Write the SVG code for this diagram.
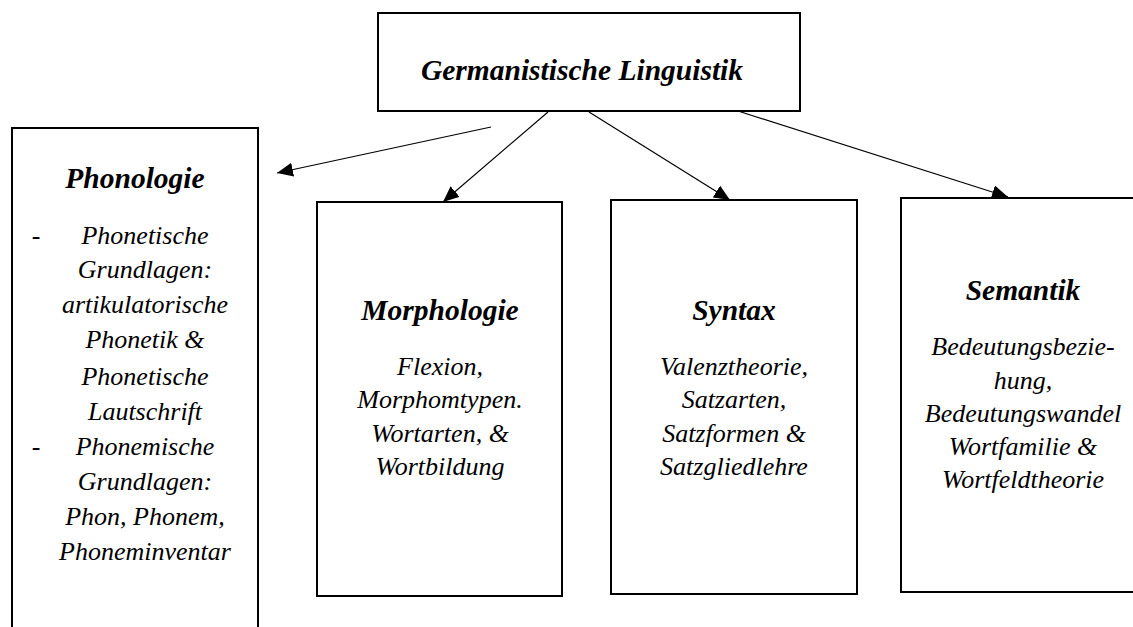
<svg xmlns="http://www.w3.org/2000/svg" width="1133" height="627" viewBox="0 0 1133 627">
  <style>
    .box { fill: #ffffff; stroke: #000000; stroke-width: 2; }
    .conn { fill: none; stroke: #000000; stroke-width: 1.2; }
    text { font-family: 'Liberation Serif', 'Times New Roman', Times, 'DejaVu Serif', serif; fill: #000; text-anchor: middle; }
    .h { font-weight: bold; font-style: italic; font-size: 29.5px; }
    .b { font-style: italic; font-size: 26px; }
    .d { font-size: 26px; }
  </style>
  <defs>
    <marker id="arrow" markerUnits="userSpaceOnUse" markerWidth="18" markerHeight="14" refX="16" refY="7" orient="auto">
      <path d="M0,0 L16,7 L0,14 Z" fill="#000"/>
    </marker>
  </defs>
  <rect x="0" y="0" width="1133" height="627" fill="#ffffff"/>

  <g id="connectors">
    <line class="conn" x1="491" y1="127" x2="277" y2="173" marker-end="url(#arrow)"/>
    <line class="conn" x1="548" y1="112" x2="443" y2="202" marker-end="url(#arrow)"/>
    <line class="conn" x1="589" y1="112" x2="730" y2="200" marker-end="url(#arrow)"/>
    <line class="conn" x1="738" y1="111" x2="1008" y2="197" marker-end="url(#arrow)"/>
  </g>

  <g id="node-root">
    <rect class="box" x="378" y="13" width="422" height="98"/>
    <text class="h" x="582" y="80">Germanistische Linguistik</text>
  </g>

  <g id="node-phonologie">
    <rect class="box" x="12" y="128" width="246" height="520"/>
    <text class="h" x="135" y="188">Phonologie</text>
    <text class="d" x="36" y="244">-</text>
    <text class="d" x="36" y="455">-</text>
    <text class="b" x="145" y="244">Phonetische</text>
    <text class="b" x="145" y="278">Grundlagen:</text>
    <text class="b" x="145" y="313">artikulatorische</text>
    <text class="b" x="145" y="348">Phonetik &amp;</text>
    <text class="b" x="145" y="385">Phonetische</text>
    <text class="b" x="145" y="420">Lautschrift</text>
    <text class="b" x="145" y="455">Phonemische</text>
    <text class="b" x="145" y="490">Grundlagen:</text>
    <text class="b" x="145" y="525">Phon, Phonem,</text>
    <text class="b" x="145" y="560">Phoneminventar</text>
  </g>

  <g id="node-morphologie">
    <rect class="box" x="317" y="202" width="245" height="394"/>
    <text class="h" x="440" y="320">Morphologie</text>
    <text class="b" x="440" y="375">Flexion,</text>
    <text class="b" x="440" y="408">Morphomtypen.</text>
    <text class="b" x="440" y="442">Wortarten, &amp;</text>
    <text class="b" x="440" y="475">Wortbildung</text>
  </g>

  <g id="node-syntax">
    <rect class="box" x="611" y="200" width="246" height="394"/>
    <text class="h" x="734" y="320">Syntax</text>
    <text class="b" x="734" y="375">Valenztheorie,</text>
    <text class="b" x="734" y="408">Satzarten,</text>
    <text class="b" x="734" y="442">Satzformen &amp;</text>
    <text class="b" x="734" y="475">Satzgliedlehre</text>
  </g>

  <g id="node-semantik">
    <rect class="box" x="901" y="198" width="260" height="394"/>
    <text class="h" x="1023" y="300">Semantik</text>
    <text class="b" x="1023" y="355">Bedeutungsbezie-</text>
    <text class="b" x="1023" y="389">hung,</text>
    <text class="b" x="1023" y="422">Bedeutungswandel</text>
    <text class="b" x="1023" y="455">Wortfamilie &amp;</text>
    <text class="b" x="1023" y="488">Wortfeldtheorie</text>
  </g>
</svg>
